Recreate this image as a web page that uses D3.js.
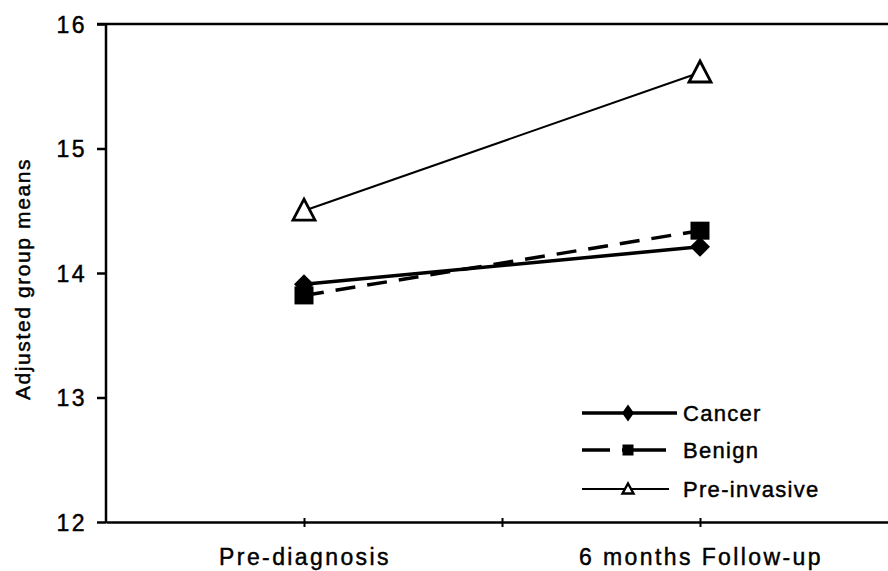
<!DOCTYPE html>
<html>
<head>
<meta charset="utf-8">
<script src="https://cdnjs.cloudflare.com/ajax/libs/d3/7.8.5/d3.min.js"></script>
<style>
  body { margin: 0; background: #fff; }
  svg { display: block; font-family: "Liberation Sans", Arial, sans-serif; }
  svg text { stroke: #000; stroke-width: 0.45px; fill: #000; }
</style>
</head>
<body>
<svg id="chart" width="888" height="571"></svg>
<script>
// data
var timepoints = ["Pre-diagnosis", "6 months Follow-up"];
var timeSlots = [1, 3];            // positions on the 0..4 category axis
var cancer = [13.91, 14.21];
var benign = [13.82, 14.34];
var preInvasive = [14.5, 15.61];
var yTicks = [12, 13, 14, 15, 16];

var series = [
  { name: "Cancer", values: cancer, marker: "diamond", width: 3.5, dash: null },
  { name: "Benign", values: benign, marker: "square", width: 3.5, dash: "20,12" },
  { name: "Pre-invasive", values: preInvasive, marker: "triangle", width: 2, dash: null }
];

var svg = d3.select("#chart");
var plotLeft = 106, plotTop = 24, plotBottom = 522;

var x = d3.scaleLinear().domain([0, 4]).range([plotLeft, plotLeft + 4 * 198]);
var y = d3.scaleLinear().domain([12, 16]).range([plotBottom, plotTop]);

// y axis
var yAxis = svg.append("g")
  .attr("transform", "translate(" + plotLeft + ",0)")
  .call(d3.axisLeft(y).tickValues(yTicks).tickSize(9).tickPadding(10).tickFormat(d3.format("d")));
yAxis.select(".domain").attr("stroke-width", 2.5).attr("d", "M0," + (plotTop - 1) + "V" + (plotBottom + 1));
yAxis.selectAll(".tick line").attr("stroke-width", 2.5);
yAxis.selectAll(".tick text").attr("font-size", 23).attr("letter-spacing", 2.4)
  .attr("dy", "0.36em").attr("font-family", "Liberation Sans, Arial, sans-serif");

// top border
svg.append("line").attr("x1", plotLeft - 9).attr("x2", 888).attr("y1", plotTop).attr("y2", plotTop)
  .attr("stroke", "#000").attr("stroke-width", 2.5);

// x axis
var xAxis = svg.append("g")
  .attr("transform", "translate(0," + plotBottom + ")")
  .call(d3.axisBottom(x).tickValues([1, 2, 3, 4]).tickSizeInner(9).tickSizeOuter(0).tickFormat(""));
xAxis.select(".domain").attr("stroke-width", 2.5);
xAxis.selectAll(".tick line").attr("stroke-width", 2).attr("transform", "translate(0,-4)");

svg.append("g").selectAll("text").data(timepoints).join("text")
  .attr("x", function(d, i) { return x(timeSlots[i]) + 1; })
  .attr("y", 565)
  .attr("text-anchor", "middle")
  .attr("font-size", 23)
  .attr("letter-spacing", 2.4)
  .text(function(d) { return d; });

// y title
svg.append("text")
  .attr("transform", "translate(30,279) rotate(-90)")
  .attr("text-anchor", "middle")
  .attr("font-size", 21)
  .attr("letter-spacing", 1.6)
  .text("Adjusted group means");

// w, h: half width / half height of the marker
function drawMarker(g, type, cx, cy, w, h) {
  if (type === "diamond") {
    g.append("path")
      .attr("d", "M" + cx + "," + (cy - h) + "L" + (cx + w) + "," + cy + "L" + cx + "," + (cy + h) + "L" + (cx - w) + "," + cy + "Z")
      .attr("fill", "#000");
  } else if (type === "square") {
    g.append("rect").attr("x", cx - w).attr("y", cy - h).attr("width", 2 * w).attr("height", 2 * h).attr("fill", "#000");
  } else {
    g.append("path")
      .attr("d", "M" + cx + "," + (cy - h * 1.1) + "L" + (cx + w) + "," + (cy + h * 0.9) + "L" + (cx - w) + "," + (cy + h * 0.9) + "Z")
      .attr("fill", "#fff").attr("stroke", "#000").attr("stroke-width", w > 8 ? 2.8 : 2.4)
      .attr("stroke-linejoin", "miter");
  }
}

var plotSizes = { diamond: [10, 10], square: [9.5, 9], triangle: [11, 10.5] };
var legendSizes = { diamond: [6, 8.5], square: [5.5, 5.5], triangle: [5.5, 5] };

var line = d3.line()
  .x(function(d, i) { return x(timeSlots[i]); })
  .y(function(d) { return y(d); });

series.forEach(function(s) {
  var g = svg.append("g");
  g.append("path")
    .attr("d", line(s.values))
    .attr("fill", "none")
    .attr("stroke", "#000")
    .attr("stroke-width", s.width)
    .attr("stroke-dasharray", s.dash);
  s.values.forEach(function(v, i) {
    var sz = plotSizes[s.marker];
    drawMarker(g, s.marker, x(timeSlots[i]), y(v), sz[0], sz[1]);
  });
});

// legend
var legendRows = [413, 450, 489];
var legend = svg.append("g");
series.forEach(function(s, i) {
  var ly = legendRows[i];
  var x2 = s.marker === "square" ? 666 : (s.marker === "triangle" ? 669 : 677);
  legend.append("line").attr("x1", 582).attr("x2", x2).attr("y1", ly).attr("y2", ly)
    .attr("stroke", "#000").attr("stroke-width", s.width)
    .attr("stroke-dasharray", s.marker === "square" ? "28,12,200" : null);
  var sz = legendSizes[s.marker];
  drawMarker(legend, s.marker, 628, ly, sz[0], sz[1]);
  legend.append("text").attr("x", 683).attr("y", ly).attr("dy", "0.36em")
    .attr("font-size", 22).attr("letter-spacing", 1.3).text(s.name);
});
</script>
</body>
</html>
